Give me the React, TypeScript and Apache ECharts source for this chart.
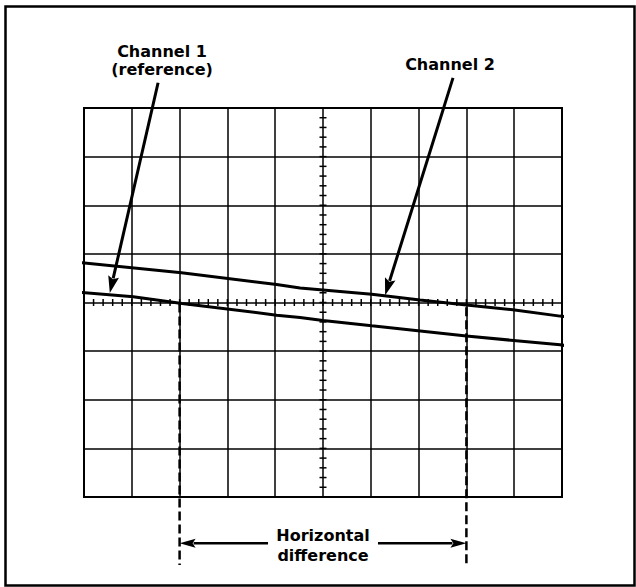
import React, { useEffect, useRef } from "react";
import * as echarts from "echarts";

// Trace readings in screen divisions (x: -5..5, y: -4..4)
const channel1X = [-5.15, -3.97, -2.95, -0.97, -0.48, 0, 1.02, 3.0, 4.96, 5.24];
const channel1Y = [0.216, 0.12, -0.02, -0.26, -0.31, -0.37, -0.48, -0.69, -0.87, -0.91];
const channel2X = [-5.15, -2.96, -0.97, -0.48, 1.02, 2.03, 3.0, 3.97, 4.96, 5.23];
const channel2Y = [0.83, 0.61, 0.37, 0.30, 0.17, 0.05, -0.05, -0.15, -0.28, -0.30];

// Dashed markers at the crossing points
const leftMarker = [[-3, -0.02], [-3, -5.4]];
const rightMarker = [[3, -0.1], [3, -5.4]];

// Arrows: [fromX, fromY, toX, toY]
const pointerArrows = [
  [-3.45, 4.52, -4.46, 0.195],
  [2.72, 4.62, 1.3, 0.15],
];
const spanArrows = [
  [-1.15, -4.95, -3.0, -4.95],
  [1.15, -4.95, 3.0, -4.95],
];

const xDivisions = [-5, 5];
const yDivisions = [-4, 4];
const minorStep = 0.2;

function buildTicks() {
  const out: number[][] = [];
  const nx = Math.round((xDivisions[1] - xDivisions[0]) / minorStep);
  for (let i = 0; i <= nx; i++) out.push([+(xDivisions[0] + i * minorStep).toFixed(2), 0, 0]);
  const ny = Math.round((yDivisions[1] - yDivisions[0]) / minorStep);
  for (let i = 0; i <= ny; i++) out.push([0, +(yDivisions[0] + i * minorStep).toFixed(2), 1]);
  return out;
}

const FONT = "DejaVu Sans";

export default function App() {
  const ref = useRef<HTMLDivElement>(null);
  useEffect(() => {
    if (!ref.current) return;
    const chart = echarts.init(ref.current, undefined, { renderer: "svg" });
    const axisCommon = {
      type: "value" as const,
      interval: 1,
      axisLine: { show: false },
      axisTick: { show: false },
      axisLabel: { show: false },
      splitLine: { show: true, lineStyle: { color: "#000", width: 1.5 } },
    };
    const arrowRender = (headLen: number, headHalf: number, lw: number) => (params: any, api: any) => {
      const p1 = api.coord([api.value(0), api.value(1)]);
      const p2 = api.coord([api.value(2), api.value(3)]);
      const dx = p2[0] - p1[0];
      const dy = p2[1] - p1[1];
      const len = Math.sqrt(dx * dx + dy * dy);
      const ux = dx / len;
      const uy = dy / len;
      const bx = p2[0] - ux * headLen;
      const by = p2[1] - uy * headLen;
      const nx = -uy;
      const ny = ux;
      return {
        type: "group",
        children: [
          {
            type: "line",
            shape: { x1: p1[0], y1: p1[1], x2: bx + ux * 2, y2: by + uy * 2 },
            style: { stroke: "#000", lineWidth: lw },
          },
          {
            type: "polygon",
            shape: {
              points: [
                [p2[0], p2[1]],
                [bx + nx * headHalf, by + ny * headHalf],
                [bx + ux * 3, by + uy * 3],
                [bx - nx * headHalf, by - ny * headHalf],
              ],
            },
            style: { fill: "#000" },
          },
        ],
      };
    };
    chart.setOption({
      animation: false,
      backgroundColor: "#fff",
      grid: {
        left: 84,
        top: 108,
        width: 478,
        height: 389,
        show: true,
        borderColor: "#000",
        borderWidth: 2,
        backgroundColor: "transparent",
      },
      xAxis: { ...axisCommon, min: xDivisions[0], max: xDivisions[1] },
      yAxis: { ...axisCommon, min: yDivisions[0], max: yDivisions[1] },
      graphic: [
        {
          type: "rect",
          shape: { x: 5.5, y: 6.5, width: 629, height: 579 },
          style: { fill: "none", stroke: "#000", lineWidth: 2.5 },
        },
        {
          type: "text",
          x: 162,
          y: 51,
          style: { text: "Channel 1", font: `bold 16px "${FONT}"`, fill: "#000", textAlign: "center", textVerticalAlign: "middle" },
        },
        {
          type: "text",
          x: 162,
          y: 69,
          style: { text: "(reference)", font: `bold 16px "${FONT}"`, fill: "#000", textAlign: "center", textVerticalAlign: "middle" },
        },
        {
          type: "text",
          x: 450,
          y: 64,
          style: { text: "Channel 2", font: `bold 16px "${FONT}"`, fill: "#000", textAlign: "center", textVerticalAlign: "middle" },
        },
        {
          type: "text",
          x: 323,
          y: 535,
          style: { text: "Horizontal", font: `bold 16px "${FONT}"`, fill: "#000", textAlign: "center", textVerticalAlign: "middle" },
        },
        {
          type: "text",
          x: 323,
          y: 555,
          style: { text: "difference", font: `bold 16px "${FONT}"`, fill: "#000", textAlign: "center", textVerticalAlign: "middle" },
        },
      ],
      series: [
        {
          type: "custom",
          name: "ticks",
          encode: { x: 0, y: 1 },
          data: buildTicks(),
          renderItem: (params: any, api: any) => {
            const p = api.coord([api.value(0), api.value(1)]);
            const vertical = api.value(2) === 0;
            const h = 3.5;
            return {
              type: "line",
              shape: vertical
                ? { x1: p[0], y1: p[1] - h, x2: p[0], y2: p[1] + h }
                : { x1: p[0] - h, y1: p[1], x2: p[0] + h, y2: p[1] },
              style: { stroke: "#000", lineWidth: 1.5 },
            };
          },
          silent: true,
        },
        {
          type: "line",
          name: "Channel 1",
          data: channel1X.map((x, i) => [x, channel1Y[i]]),
          symbol: "none",
          clip: false,
          lineStyle: { color: "#000", width: 3 },
        },
        {
          type: "line",
          name: "Channel 2",
          data: channel2X.map((x, i) => [x, channel2Y[i]]),
          symbol: "none",
          clip: false,
          lineStyle: { color: "#000", width: 3 },
        },
        {
          type: "line",
          data: leftMarker,
          symbol: "none",
          clip: false,
          lineStyle: { color: "#000", width: 2.5, type: [9, 4] },
        },
        {
          type: "line",
          data: rightMarker,
          symbol: "none",
          clip: false,
          lineStyle: { color: "#000", width: 2.5, type: [9, 4] },
        },
        {
          type: "custom",
          encode: { x: [0, 2], y: [1, 3] },
          data: pointerArrows,
          renderItem: arrowRender(17, 5.5, 3),
          silent: true,
        },
        {
          type: "custom",
          encode: { x: [0, 2], y: [1, 3] },
          data: spanArrows,
          renderItem: arrowRender(16, 4.5, 2.5),
          silent: true,
        },
      ],
    });
    return () => chart.dispose();
  }, []);
  return (
    <div
      ref={ref}
      style={{ position: "absolute", left: 0, top: 0, width: 636, height: 587 }}
    />
  );
}
